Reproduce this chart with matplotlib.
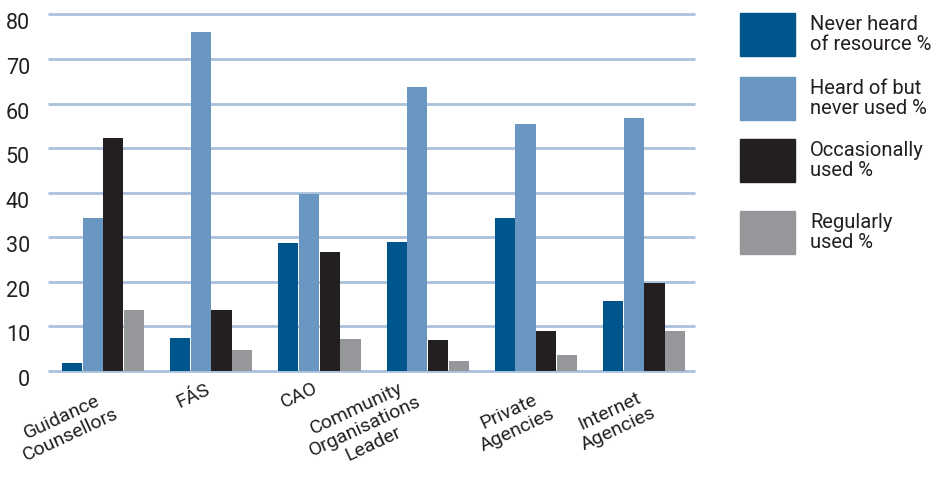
import matplotlib
matplotlib.use('Agg')
import matplotlib.pyplot as plt
from matplotlib.patches import Rectangle
import matplotlib.transforms as mtransforms
import numpy as np

plt.rcParams['font.family'] = ['Roboto', 'DejaVu Sans']

sources = ['Guidance\nCounsellors', 'FÁS', 'CAO',
           'Community\nOrganisations\nLeader', 'Private\nAgencies',
           'Internet\nAgencies']
never_heard = [1.7, 7.3, 28.7, 28.9, 34.3, 15.7]
heard_not_used = [34.3, 76.1, 39.7, 63.7, 55.4, 56.8]
occasionally = [52.3, 13.6, 26.7, 6.9, 8.9, 19.7]
regularly = [13.6, 4.7, 7.1, 2.2, 3.5, 8.9]

series_names = ['Never heard\nof resource %', 'Heard of but\nnever used %',
                'Occasionally\nused %', 'Regularly\nused %']
colors = ['#00568c', '#6a97c1', '#231f20', '#96979b']
text_color = '#231f20'
grid_color = '#a9c1dc'

# label nudges (pixels) for the rotated category names
label_dx = [-37, -18, -20, -63, -23, -30]
label_dy = [-55, -25, -25, -56, -50, -49]

fig = plt.figure(figsize=(9.34, 4.8), dpi=100)
ax = fig.add_axes([0.0514, 0.2277, 0.6927, 0.7421])

x = np.arange(len(sources))
step = 0.191
width = 0.186
for k, vals in enumerate([never_heard, heard_not_used, occasionally, regularly]):
    ax.bar(x + (k - 1.5) * step, vals, width, color=colors[k], zorder=3)

ax.set_xlim(-0.508, 5.47)
ax.set_ylim(0, 80)
yticks = np.arange(0, 81, 10)
ax.hlines(yticks, -0.508, 5.47, colors=grid_color, linewidth=2.0,
          zorder=1, clip_on=False)

for s in ax.spines.values():
    s.set_visible(False)
ax.set_xticks([])
ax.set_yticks(yticks)
ax.tick_params(axis='y', length=0, pad=13, labelsize=15.5, labelcolor=text_color)
shift = mtransforms.ScaledTranslation(0, -7 / 100, fig.dpi_scale_trans)
for lbl in ax.get_yticklabels():
    lbl.set_transform(lbl.get_transform() + shift)

trans = mtransforms.blended_transform_factory(ax.transData, ax.transAxes)
for i, name in enumerate(sources):
    ax.annotate(name, xy=(x[i], 0), xycoords=trans,
                xytext=(label_dx[i], label_dy[i]), textcoords='offset pixels',
                rotation=25, ha='center', va='center', multialignment='center',
                fontsize=14, color=text_color, linespacing=1.1)

# legend swatches and labels
box_tops = [13, 77, 139, 211]
for k, name in enumerate(series_names):
    top = 1 - box_tops[k] / 480
    fig.patches.append(Rectangle((740 / 934, top - 43 / 480), 55 / 934, 43 / 480,
                                 transform=fig.transFigure, color=colors[k]))
    fig.text(810 / 934, top - 21.5 / 480, name, ha='left', va='center',
             fontsize=14.5, color=text_color, linespacing=1.12)

fig.savefig('out.png', dpi=100)
